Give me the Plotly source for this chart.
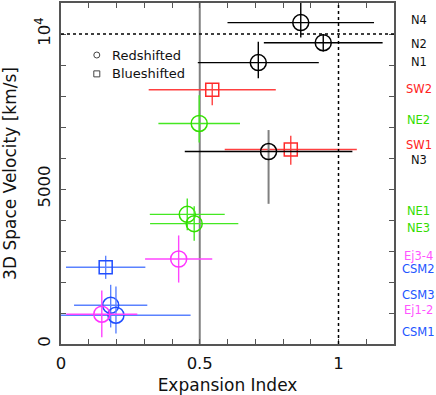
import plotly.graph_objects as go

# ---- data ----
names = ["N4", "N2", "N1", "SW2", "NE2", "SW1", "N3", "NE1", "NE3",
         "Ej3-4", "CSM2", "CSM3", "CSM1", "Ej1-2"]
groups = ["N", "N", "N", "SW", "NE", "SW", "N", "NE", "NE",
          "Ej", "CSM", "CSM", "CSM", "Ej"]
shifts = ["red", "red", "red", "blue", "red", "blue", "red", "red", "red",
          "red", "blue", "red", "red", "red"]
expansion = [0.864, 0.945, 0.711, 0.545, 0.498, 0.828, 0.748, 0.455, 0.480,
             0.424, 0.161, 0.179, 0.198, 0.147]
expansion_err = [0.264, 0.214, 0.218, 0.229, 0.147, 0.238, 0.302, 0.135, 0.159,
                 0.121, 0.143, 0.132, 0.269, 0.128]
velocity = [10368, 9718, 9078, 8202, 7114, 6272, 6208, 4182, 3882,
            2742, 2474, 1248, 928, 960]
velocity_err_plus = [700, 280, 672, 200, 908, 448, 694, 512, 565,
                     760, 373, 662, 928, 768]
velocity_err_minus = [480, 280, 502, 500, 618, 490, 1686, 512, 555,
                      760, 373, 714, 586, 746]

label_names = ["N4", "N2", "N1", "SW2", "NE2", "SW1", "N3", "NE1", "NE3",
               "Ej3-4", "CSM2", "CSM3", "Ej1-2", "CSM1"]
label_groups = ["N", "N", "N", "SW", "NE", "SW", "N", "NE", "NE",
                "Ej", "CSM", "CSM", "Ej", "CSM"]
label_y = [10440, 9680, 9100, 8210, 7220, 6420, 5920, 4290, 3740,
           2840, 2420, 1590, 1110, 390]

legend_names = ["Redshifted", "Blueshifted"]
legend_x = 0.129
legend_y = [9322, 8714]

x_ticks = [0, 0.5, 1]
x_ticktext = ["0", "0.5", "1"]
y_ticks = [0, 5000, 10000]
y_ticktext = ["0", "5000", "10<sup>4</sup>"]

marker_color = {"N": "#000000", "SW": "#ff2a2a", "NE": "#33e000",
                "Ej": "#ff33ff", "CSM": "#1f4dff"}
bar_color = {"N": "#000000", "SW": "#ff4040", "NE": "#44e822",
             "Ej": "#ff44ff", "CSM": "#5a82ff"}
label_color = {"N": "#111111", "SW": "#ff2222", "NE": "#33dd00",
               "Ej": "#ff55ff", "CSM": "#2255ff"}

FONT = "DejaVu Sans"

fig = go.Figure()

for i, nm in enumerate(names):
    g = groups[i]
    is_red = shifts[i] == "red"
    ycol = "#808080" if nm == "N3" else bar_color[g]
    fig.add_trace(go.Scatter(
        x=[expansion[i]], y=[velocity[i]], mode="markers",
        marker=dict(symbol="circle-open" if is_red else "square-open",
                    size=16 if is_red else 13,
                    color=marker_color[g], line=dict(width=1.5, color=marker_color[g])),
        error_x=dict(type="data", array=[expansion_err[i]], color=bar_color[g],
                     thickness=1.4, width=0),
        error_y=dict(type="data", symmetric=False, array=[velocity_err_plus[i]],
                     arrayminus=[velocity_err_minus[i]], color=ycol,
                     thickness=2 if nm == "N3" else 1.4, width=0),
        showlegend=False, hoverinfo="skip", cliponaxis=True,
    ))

# legend (symbols as pixel-sized shapes, text as annotations)
for k, (txt, ly) in enumerate(zip(legend_names, legend_y)):
    fig.add_shape(type="circle" if k == 0 else "rect", xref="x", yref="y",
                  xsizemode="pixel", ysizemode="pixel",
                  xanchor=legend_x, yanchor=ly, x0=-3, x1=3, y0=-3, y1=3,
                  line=dict(color="#444444", width=1))
    fig.add_annotation(x=legend_x + 0.048, y=ly, xref="x", yref="y", text=txt,
                       showarrow=False, xanchor="left", yanchor="middle",
                       font=dict(family=FONT, size=13, color="#111111"))

# reference lines
fig.add_shape(type="line", x0=0.5, x1=0.5, y0=0, y1=1, xref="x", yref="paper",
              line=dict(color="#808080", width=2), layer="below")
fig.add_shape(type="line", x0=1, x1=1, y0=0, y1=1, xref="x", yref="paper",
              line=dict(color="#000000", width=1.5, dash="dot"))
fig.add_shape(type="line", x0=0, x1=1, y0=10000, y1=10000, xref="paper", yref="y",
              line=dict(color="#000000", width=1.5, dash="dot"))

for nm, g, yy in zip(label_names, label_groups, label_y):
    fig.add_annotation(x=1.075, xref="paper", y=yy, yref="y", text=nm,
                       showarrow=False, xanchor="center", yanchor="middle",
                       font=dict(family=FONT, size=11.5, color=label_color[g]))

axis_common = dict(showline=True, linecolor="#555555", linewidth=1.5, mirror="ticks",
                   ticks="inside", tickcolor="#555555", ticklen=5, tickwidth=1.2,
                   showgrid=False, zeroline=False, ticklabelstandoff=3,
                   tickfont=dict(family=FONT, size=16.5, color="#111111"))

fig.update_xaxes(range=[0, 1.2], tickmode="array",
                 tickvals=[round(0.1 * k, 1) for k in range(13)],
                 ticktext=[x_ticktext[x_ticks.index(round(0.1 * k, 1))]
                           if round(0.1 * k, 1) in x_ticks else "" for k in range(13)],
                 title=dict(text="Expansion Index", font=dict(family=FONT, size=17, color="#111111"),
                            standoff=9),
                 **axis_common)
fig.update_yaxes(range=[0, 11000], tickmode="array",
                 tickvals=[1000 * k for k in range(12)],
                 ticktext=[y_ticktext[y_ticks.index(1000 * k)] if 1000 * k in y_ticks else ""
                           for k in range(12)],
                 tickangle=-90,
                 title=dict(text="3D Space Velocity [km/s]",
                            font=dict(family=FONT, size=17, color="#111111"), standoff=11),
                 **axis_common)

fig.update_layout(
    width=436, height=395,
    margin=dict(l=61, r=42, t=1, b=51),
    plot_bgcolor="white", paper_bgcolor="white",
    font=dict(family=FONT, size=14, color="#111111"),
    showlegend=False,
)

fig.write_html("out.html", config={"displayModeBar": False},
               post_script="document.body.style.margin='0';")
